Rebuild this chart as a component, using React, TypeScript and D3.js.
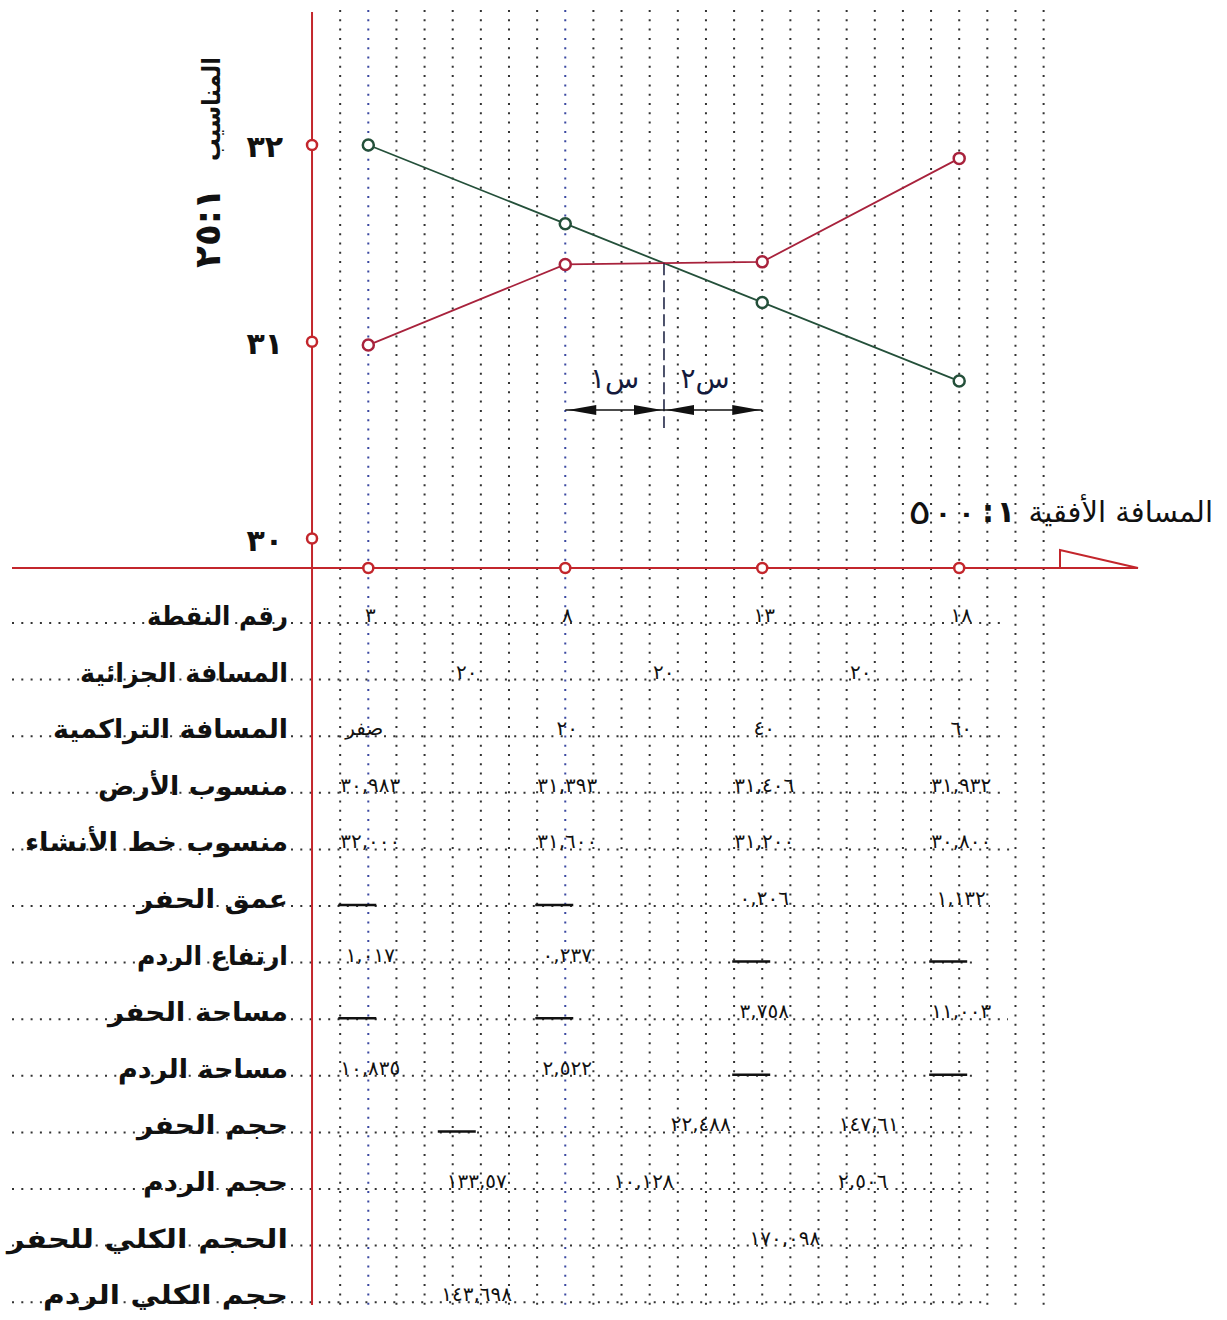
import React from 'react';
import * as d3 from 'd3';

// Station data of the longitudinal section
const POINT_NUMBERS = ['٣', '٨', '١٣', '١٨'];
const CHAINAGE = [0, 20, 40, 60];
const CHAINAGE_LABELS = ['صفر', '٢٠', '٤٠', '٦٠'];
const PARTIAL_DISTANCES = ['٢٠', '٢٠', '٢٠'];
const GROUND_LEVELS = [30.983, 31.393, 31.406, 31.932];
const DESIGN_LEVELS = [32.0, 31.6, 31.2, 30.8];
const GROUND_LABELS = ['٣٠,٩٨٣', '٣١,٣٩٣', '٣١,٤٠٦', '٣١,٩٣٢'];
const DESIGN_LABELS = ['٣٢,٠٠٠', '٣١,٦٠٠', '٣١,٢٠٠', '٣٠,٨٠٠'];
const CUT_DEPTH = [null, null, '٠,٢٠٦', '١,١٣٢'];
const FILL_HEIGHT = ['١,٠١٧', '٠,٢٣٧', null, null];
const CUT_AREA = [null, null, '٣,٧٥٨', '١١,٠٠٣'];
const FILL_AREA = ['١٠,٨٣٥', '٢,٥٢٢', null, null];
const CUT_VOLUME = [null, '٢٢,٤٨٨', '١٤٧,٦١'];
const FILL_VOLUME = ['١٣٣,٥٧', '١٠,١٢٨', '٢,٥٠٦'];
const TOTAL_CUT = '١٧٠,٠٩٨';
const TOTAL_FILL = '١٤٣,٦٩٨';
const LEVEL_TICKS = [30, 31, 32];
const LEVEL_TICK_LABELS = ['٣٠', '٣١', '٣٢'];
const ROW_TITLES = [
  'رقم النقطة',
  'المسافة الجزائية',
  'المسافة التراكمية',
  'منسوب الأرض',
  'منسوب خط الأنشاء',
  'عمق الحفر',
  'ارتفاع الردم',
  'مساحة الحفر',
  'مساحة الردم',
  'حجم الحفر',
  'حجم الردم',
  'الحجم الكلي للحفر',
  'حجم الكلي الردم',
];

// layout
const W = 1227;
const H = 1320;
const AXIS_RED = '#c3262c';
const GROUND_RED = '#a8223c';
const DESIGN_GREEN = '#24503a';
const INK = '#141a3c';
const FONT = "'DejaVu Sans', sans-serif";
const COL_STEP = 20 / 7; // grid column spacing in metres
const ROW_ENDS = [1000, 977, 1000, 1005, 1010, 990, 977, 1008, 977, 977, 977, 977, 988];
const TITLE_WIDTHS = [141, 208, 235, 190, 263, 151, 151, 180, 170, 151, 145, 281, 245];

const x = d3.scaleLinear().domain([0, 60]).range([368.3, 959.2]);
const y = d3.scaleLinear().domain([30, 32]).range([538.5, 145]);
const rowY = d3.scaleLinear().domain([0, 1]).range([623, 679.6]);

const AXIS_X = x(-2 * COL_STEP);
const BASE_Y = 568;

type Cell = { value: string | null; cx: number };

function pointCells(values: (string | null)[]): Cell[] {
  return values.map((v, i) => ({ value: v, cx: x(CHAINAGE[i]) + (v ? 2 : -11) }));
}
function segmentCells(values: (string | null)[], nudges: number[]): Cell[] {
  return values.map((v, i) => ({
    value: v,
    cx: x((CHAINAGE[i] + CHAINAGE[i + 1]) / 2) + nudges[i],
  }));
}

const TABLE_CELLS: Cell[][] = [
  pointCells(POINT_NUMBERS),
  segmentCells(PARTIAL_DISTANCES, [0, 0, 0]),
  pointCells(CHAINAGE_LABELS).map((c, i) => (i === 0 ? { ...c, cx: c.cx - 6 } : c)),
  pointCells(GROUND_LABELS),
  pointCells(DESIGN_LABELS),
  pointCells(CUT_DEPTH),
  pointCells(FILL_HEIGHT),
  pointCells(CUT_AREA),
  pointCells(FILL_AREA),
  segmentCells(CUT_VOLUME, [-10, 37, 8]),
  segmentCells(FILL_VOLUME, [10, -20, 2]),
  [{ value: TOTAL_CUT, cx: x(42.3) }],
  [{ value: TOTAL_FILL, cx: x(11) }],
];

// where the design line crosses the ground line
function crossing() {
  for (let i = 0; i < CHAINAGE.length - 1; i++) {
    const d0 = DESIGN_LEVELS[i] - GROUND_LEVELS[i];
    const d1 = DESIGN_LEVELS[i + 1] - GROUND_LEVELS[i + 1];
    if (d0 * d1 <= 0 && d0 !== d1) {
      const t = d0 / (d0 - d1);
      return {
        seg: i,
        ch: CHAINAGE[i] + t * (CHAINAGE[i + 1] - CHAINAGE[i]),
        level: GROUND_LEVELS[i] + t * (GROUND_LEVELS[i + 1] - GROUND_LEVELS[i]),
      };
    }
  }
  return { seg: 1, ch: 30, level: 31.4 };
}

function Arrow({ tip, dir, yy }: { tip: number; dir: number; yy: number }) {
  const len = 28;
  const hw = 5;
  const base = tip - dir * len;
  return <polygon points={`${tip},${yy} ${base},${yy - hw} ${base},${yy + hw}`} fill="#111" />;
}

export default function App() {
  const columns = d3.range(1, 27).map((k) => ({ k, px: x((k - 2) * COL_STEP) }));
  const line = d3
    .line<number>()
    .x((_, i) => x(CHAINAGE[i]))
    .y((v) => y(v));
  const cross = crossing();
  const cx = x(cross.ch);
  const cy = y(cross.level);
  const leftX = x(CHAINAGE[cross.seg]);
  const rightX = x(CHAINAGE[cross.seg + 1]);
  const arrowY = 410;

  return (
    <svg
      width={W}
      height={H}
      viewBox={`0 0 ${W} ${H}`}
      style={{ position: 'absolute', left: 0, top: 0, background: '#fff' }}
      fontFamily={FONT}
    >
      {/* dotted grid columns */}
      {columns.map(({ k, px }) => (
        <line
          key={k}
          x1={px}
          x2={px}
          y1={10}
          y2={1312}
          stroke={k === 2 || k === 9 ? '#3a48a0' : '#333'}
          strokeWidth={2}
          strokeDasharray="2 7.3"
        />
      ))}

      {/* table rows */}
      {ROW_TITLES.map((t, i) => (
        <g key={t}>
          <line
            x1={12}
            x2={ROW_ENDS[i]}
            y1={rowY(i)}
            y2={rowY(i)}
            stroke="#333"
            strokeWidth={2}
            strokeDasharray="2 7.3"
          />
          <text
            x={288}
            y={rowY(i) + 2}
            textAnchor="end"
            fontSize={26}
            fontWeight="bold"
            fill="#111"
            textLength={TITLE_WIDTHS[i]}
            lengthAdjust="spacingAndGlyphs"
          >
            {t}
          </text>
          {TABLE_CELLS[i].map((c, j) =>
            c.value ? (
              <text key={j} x={c.cx} y={rowY(i) - 1} textAnchor="middle" fontSize={20} fill="#111">
                {c.value}
              </text>
            ) : (
              <line key={j} x1={c.cx - 19} x2={c.cx + 19} y1={rowY(i) - 1} y2={rowY(i) - 1} stroke="#111" strokeWidth={2.5} />
            )
          )}
        </g>
      ))}

      {/* axes */}
      <line x1={AXIS_X} x2={AXIS_X} y1={12} y2={1305} stroke={AXIS_RED} strokeWidth={2} />
      <line x1={12} x2={1138} y1={BASE_Y} y2={BASE_Y} stroke={AXIS_RED} strokeWidth={2} />
      <polygon
        points={`1060,${BASE_Y - 18} 1060,${BASE_Y} 1138,${BASE_Y}`}
        fill="none"
        stroke={AXIS_RED}
        strokeWidth={2}
      />

      {LEVEL_TICKS.map((v, i) => (
        <g key={v}>
          <circle cx={AXIS_X} cy={y(v)} r={5} fill="#fff" stroke={AXIS_RED} strokeWidth={2.5} />
          <text x={283} y={y(v) + 12} textAnchor="end" fontSize={30} fontWeight="bold" fill="#111">
            {LEVEL_TICK_LABELS[i]}
          </text>
        </g>
      ))}
      {CHAINAGE.map((c) => (
        <circle key={c} cx={x(c)} cy={BASE_Y} r={5} fill="#fff" stroke={AXIS_RED} strokeWidth={2.5} />
      ))}

      {/* axis titles */}
      <g transform="translate(220,162) rotate(-90)">
        <text
          x={105}
          y={0}
          textAnchor="end"
          fontSize={25}
          fill="#111"
          fontWeight="bold"
          textLength={104}
          lengthAdjust="spacingAndGlyphs"
        >
          المناسيب
        </text>
        <text
          x={-26}
          y={0}
          textAnchor="end"
          fontSize={36}
          fontWeight="bold"
          fill="#111"
          textLength={80}
          lengthAdjust="spacingAndGlyphs"
        >
          ٢٥:١
        </text>
      </g>
      <text x={1213} y={522} textAnchor="end" fontSize={29} fill="#111">
        المسافة الأفقية
      </text>
      <text x={1006} y={522} textAnchor="middle" fontSize={30} fontWeight="bold" fill="#111">
        ١
      </text>
      <text x={988} y={522} textAnchor="middle" fontSize={30} fontWeight="bold" fill="#111">
        :
      </text>
      <text
        x={943}
        y={524}
        textAnchor="middle"
        fontSize={34}
        fill="#111"
        textLength={70}
        lengthAdjust="spacingAndGlyphs"
      >
        ٥٠٠
      </text>

      {/* ground and design lines */}
      <path d={line(DESIGN_LEVELS) || ''} fill="none" stroke={DESIGN_GREEN} strokeWidth={1.8} />
      <path d={line(GROUND_LEVELS) || ''} fill="none" stroke={GROUND_RED} strokeWidth={1.8} />
      {DESIGN_LEVELS.map((v, i) => (
        <circle key={'d' + i} cx={x(CHAINAGE[i])} cy={y(v)} r={5.5} fill="#fff" stroke={DESIGN_GREEN} strokeWidth={2.5} />
      ))}
      {GROUND_LEVELS.map((v, i) => (
        <circle key={'g' + i} cx={x(CHAINAGE[i])} cy={y(v)} r={5.5} fill="#fff" stroke={GROUND_RED} strokeWidth={2.5} />
      ))}

      {/* zero point dimension */}
      <line x1={cx} x2={cx} y1={cy} y2={428} stroke={INK} strokeWidth={1.5} strokeDasharray="12 5" />
      <line x1={leftX} x2={rightX} y1={arrowY} y2={arrowY} stroke="#111" strokeWidth={1.5} />
      <Arrow tip={leftX + 3} dir={-1} yy={arrowY} />
      <Arrow tip={cx - 2} dir={1} yy={arrowY} />
      <Arrow tip={cx + 2} dir={-1} yy={arrowY} />
      <Arrow tip={rightX - 2} dir={1} yy={arrowY} />
      <text x={(leftX + cx) / 2} y={388} textAnchor="middle" fontSize={28} fill={INK}>
        س١
      </text>
      <text x={(cx + rightX) / 2 - 8} y={388} textAnchor="middle" fontSize={28} fill={INK}>
        س٢
      </text>
    </svg>
  );
}
